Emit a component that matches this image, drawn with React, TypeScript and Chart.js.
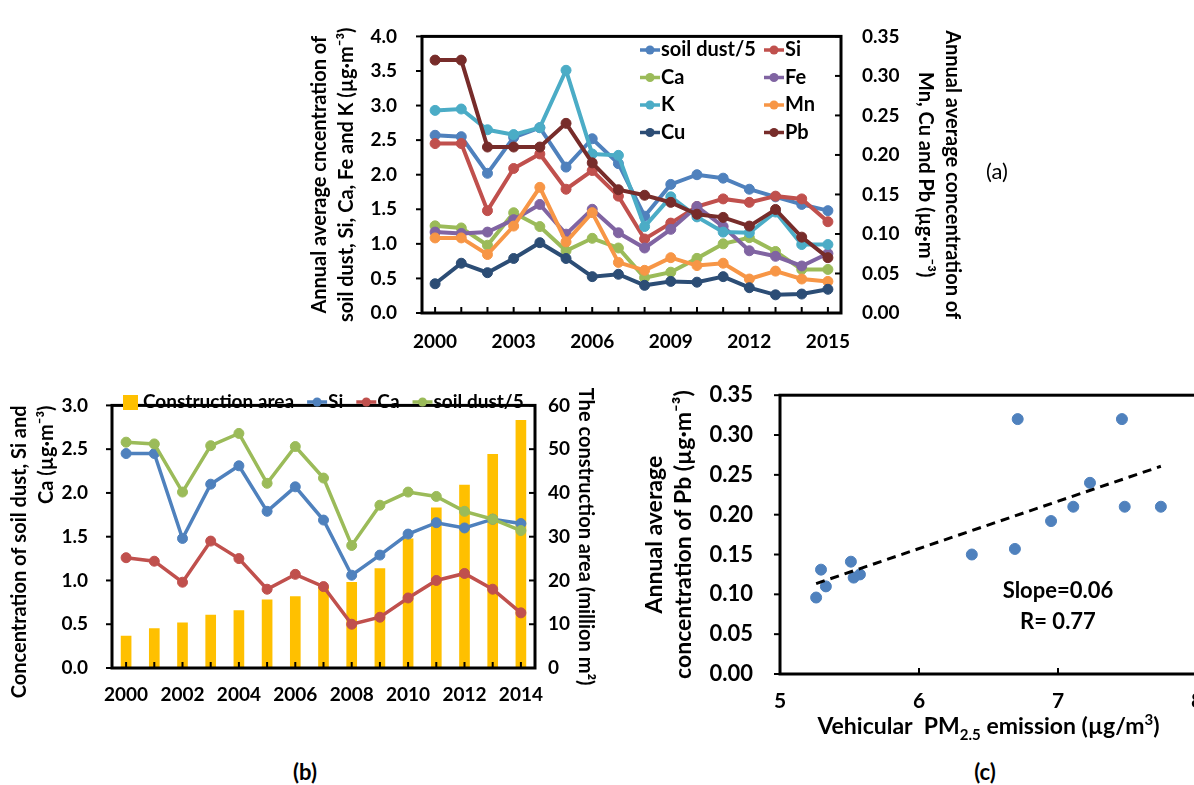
import React, { useEffect, useRef } from "react";
import { Chart, registerables } from "chart.js";

Chart.register(...registerables);

const FONT = "Lato";
const BLACK = "#000000";

// ---------- Panel (a): annual averages 2000–2015 ----------
const yearsA = ["2000", "2001", "2002", "2003", "2004", "2005", "2006", "2007", "2008", "2009", "2010", "2011", "2012", "2013", "2014", "2015"];
const soilDustA = [2.57, 2.55, 2.02, 2.54, 2.68, 2.11, 2.52, 2.16, 1.40, 1.86, 2.00, 1.95, 1.79, 1.68, 1.57, 1.48];
const siA = [2.45, 2.45, 1.48, 2.09, 2.30, 1.79, 2.06, 1.69, 1.07, 1.30, 1.54, 1.65, 1.60, 1.69, 1.65, 1.32];
const caA = [1.26, 1.23, 0.98, 1.45, 1.25, 0.90, 1.08, 0.94, 0.51, 0.59, 0.79, 1.00, 1.09, 0.89, 0.63, 0.63];
const feA = [1.17, 1.15, 1.17, 1.35, 1.57, 1.14, 1.50, 1.16, 0.94, 1.21, 1.54, 1.25, 0.90, 0.82, 0.68, 0.86];
const kA = [2.93, 2.95, 2.65, 2.58, 2.68, 3.51, 2.30, 2.28, 1.25, 1.68, 1.39, 1.17, 1.16, 1.46, 0.99, 0.99];
const mnA = [0.095, 0.095, 0.074, 0.110, 0.159, 0.090, 0.127, 0.064, 0.054, 0.070, 0.060, 0.063, 0.043, 0.053, 0.043, 0.040];
const cuA = [0.037, 0.063, 0.051, 0.069, 0.089, 0.069, 0.046, 0.049, 0.035, 0.040, 0.039, 0.046, 0.032, 0.023, 0.024, 0.030];
const pbA = [0.320, 0.320, 0.210, 0.210, 0.210, 0.240, 0.190, 0.156, 0.149, 0.140, 0.125, 0.121, 0.110, 0.131, 0.096, 0.070];

// ---------- Panel (b): construction area vs. crustal species 2000–2014 ----------
const yearsB = ["2000", "2001", "2002", "2003", "2004", "2005", "2006", "2007", "2008", "2009", "2010", "2011", "2012", "2013", "2014"];
const constructionArea = [7.3, 9.0, 10.3, 12.1, 13.1, 15.6, 16.3, 18.7, 19.6, 22.7, 29.5, 36.6, 41.8, 48.8, 56.6];
const siB = [2.45, 2.45, 1.48, 2.10, 2.31, 1.79, 2.07, 1.69, 1.06, 1.29, 1.53, 1.66, 1.60, 1.70, 1.65];
const caB = [1.26, 1.22, 0.98, 1.45, 1.25, 0.90, 1.07, 0.93, 0.50, 0.58, 0.80, 1.00, 1.08, 0.90, 0.63];
const soilDustB = [2.58, 2.56, 2.01, 2.54, 2.68, 2.11, 2.53, 2.17, 1.40, 1.86, 2.01, 1.96, 1.79, 1.70, 1.57];

// ---------- Panel (c): Pb vs. vehicular PM2.5 emission ----------
const vehicularPM = [5.295, 5.51, 5.575, 6.38, 6.69, 6.71, 6.95, 7.11, 7.23, 7.46, 7.48, 7.74, 5.26, 5.33, 5.53];
const pbC = [0.131, 0.141, 0.125, 0.150, 0.157, 0.320, 0.192, 0.210, 0.240, 0.320, 0.210, 0.210, 0.096, 0.110, 0.121];
const statsText = ["Slope=0.06", "R= 0.77"];

// Colours
const C_SOIL = "#4F81BD";
const C_SI = "#C0504D";
const C_CA = "#9BBB59";
const C_FE = "#8064A2";
const C_K = "#4BACC6";
const C_MN = "#F79646";
const C_CU = "#2C4D75";
const C_PB = "#772C2A";
const C_AREA = "#FFC000";

const font = (size: number, weight: string = "bold", lineHeight: number = 1.2) => ({
  family: FONT,
  size,
  weight,
  lineHeight,
});

// Plot frame plus short tick marks (inside or outside the frame)
const framePlugin = {
  id: "frame",
  afterDraw(chart: any, _args: any, opts: any) {
    const { ctx, chartArea: a } = chart;
    const len = opts.tickLen ?? 6;
    ctx.save();
    ctx.strokeStyle = BLACK;
    ctx.lineWidth = 2;
    const marks = opts.ticks || {};
    Object.keys(marks).forEach((id) => {
      const s = chart.scales[id];
      if (!s) return;
      const dir = marks[id];
      s.ticks.forEach((_t: any, i: number) => {
        const p = s.getPixelForTick(i);
        ctx.beginPath();
        if (s.isHorizontal()) {
          ctx.moveTo(p, a.bottom);
          ctx.lineTo(p, dir === "in" ? a.bottom - len : a.bottom + len);
        } else if (s.position === "left") {
          ctx.moveTo(a.left, p);
          ctx.lineTo(dir === "in" ? a.left + len : a.left - len, p);
        } else {
          ctx.moveTo(a.right, p);
          ctx.lineTo(dir === "in" ? a.right - len : a.right + len, p);
        }
        ctx.stroke();
      });
    });
    ctx.lineWidth = 3;
    ctx.strokeRect(a.left, a.top, a.right - a.left, a.bottom - a.top);
    ctx.restore();
  },
};

// Legend drawn inside the plot: grid of columns or a single flowing row
const legendPlugin = {
  id: "innerLegend",
  afterDraw(chart: any, _args: any, opts: any) {
    if (!opts || !opts.display) return;
    const { ctx } = chart;
    ctx.save();
    ctx.font = `bold ${opts.fontSize}px ${FONT}`;
    ctx.textBaseline = "middle";
    ctx.textAlign = "left";
    let flowX = opts.x;
    chart.data.datasets.forEach((d: any, i: number) => {
      let x: number;
      let y: number;
      if (opts.columns) {
        x = opts.columns[i % opts.columns.length];
        y = opts.y + Math.floor(i / opts.columns.length) * opts.rowHeight;
      } else {
        x = flowX;
        y = opts.y;
      }
      let textX: number;
      if (d.type === "bar") {
        ctx.fillStyle = d.backgroundColor;
        ctx.fillRect(x, y - 7, 15, 15);
        textX = x + 20;
      } else {
        ctx.strokeStyle = d.borderColor;
        ctx.lineWidth = 3.5;
        ctx.beginPath();
        ctx.moveTo(x, y);
        ctx.lineTo(x + 20, y);
        ctx.stroke();
        ctx.fillStyle = d.borderColor;
        ctx.beginPath();
        ctx.arc(x + 10, y, 4.5, 0, Math.PI * 2);
        ctx.fill();
        textX = x + 21;
      }
      ctx.fillStyle = BLACK;
      ctx.fillText(d.label, textX, y);
      flowX = textX + ctx.measureText(d.label).width + opts.gap;
    });
    ctx.restore();
  },
};

// Statistics note and the x-axis title with sub/superscripts for panel (c)
const scatterNotesPlugin = {
  id: "scatterNotes",
  afterDraw(chart: any, _args: any, opts: any) {
    const { ctx, chartArea: a } = chart;
    const xs = chart.scales.x;
    const ys = chart.scales.y;
    ctx.save();
    ctx.fillStyle = BLACK;
    ctx.textBaseline = "middle";
    ctx.textAlign = "center";
    ctx.font = `bold 22px ${FONT}`;
    opts.notes.forEach((n: any) => {
      ctx.fillText(n.text, xs.getPixelForValue(n.x), ys.getPixelForValue(n.y));
    });

    const parts = [
      { t: "Vehicular  PM", size: 23, dy: 0 },
      { t: "2.5", size: 15, dy: 6 },
      { t: " emission (\u00b5g/m", size: 23, dy: 0 },
      { t: "3", size: 15, dy: -9 },
      { t: ")", size: 23, dy: 0 },
    ];
    ctx.textAlign = "left";
    ctx.textBaseline = "alphabetic";
    let total = 0;
    parts.forEach((p) => {
      ctx.font = `bold ${p.size}px ${FONT}`;
      total += ctx.measureText(p.t).width;
    });
    let x = (a.left + a.right) / 2 - total / 2;
    const base = a.bottom + opts.titleOffset;
    parts.forEach((p) => {
      ctx.font = `bold ${p.size}px ${FONT}`;
      ctx.fillText(p.t, x, base + p.dy);
      x += ctx.measureText(p.t).width;
    });
    ctx.restore();
  },
};

const lineSet = (label: string, data: number[], color: string, axis: string, order: number, width = 4) => ({
  type: "line" as const,
  label,
  data,
  yAxisID: axis,
  borderColor: color,
  backgroundColor: color,
  borderWidth: width,
  pointRadius: 5,
  pointBackgroundColor: color,
  pointBorderColor: color,
  pointBorderWidth: 1,
  tension: 0,
  order,
});

function makeChartA(): any {
  return {
    type: "line",
    data: {
      labels: yearsA,
      datasets: [
        lineSet("soil dust/5", soilDustA, C_SOIL, "y", 8),
        lineSet("Si", siA, C_SI, "y", 7),
        lineSet("Ca", caA, C_CA, "y", 6),
        lineSet("Fe", feA, C_FE, "y", 5),
        lineSet("K", kA, C_K, "y", 4),
        lineSet("Mn", mnA, C_MN, "y1", 3),
        lineSet("Cu", cuA, C_CU, "y1", 2),
        lineSet("Pb", pbA, C_PB, "y1", 1),
      ],
    },
    options: {
      responsive: false,
      animation: false,
      layout: { padding: { top: 21, left: 0, right: 0, bottom: 0 } },
      plugins: {
        legend: { display: false },
        tooltip: { enabled: false },
        frame: { ticks: { x: "in", y: "out", y1: "in" }, tickLen: 6 },
        innerLegend: { display: true, columns: [350, 474], y: 50, rowHeight: 27.5, fontSize: 20, gap: 0 },
      },
      scales: {
        x: {
          type: "category",
          offset: true,
          grid: { display: false, drawTicks: false },
          border: { display: false },
          ticks: {
            autoSkip: false,
            maxRotation: 0,
            padding: 17,
            color: BLACK,
            font: font(19),
            callback: (_v: any, i: number) => (i % 3 === 0 ? yearsA[i] : ""),
          },
          afterFit: (s: any) => {
            s.height = 52;
          },
        },
        y: {
          position: "left",
          min: 0,
          max: 4,
          grid: { display: false, drawTicks: false },
          border: { display: false },
          ticks: { stepSize: 0.5, padding: 25, color: BLACK, font: font(19), callback: (v: number) => v.toFixed(1) },
          title: {
            display: true,
            text: ["Annual average cncentration of", "soil dust, Si, Ca, Fe and K (\u00b5g\u00b7m\u207b\u00b3)"],
            color: BLACK,
            font: font(20, "bold", 1.35),
            padding: { top: 16.5, bottom: 0 },
          },
          afterFit: (s: any) => {
            s.width = 132;
          },
        },
        y1: {
          position: "right",
          min: 0,
          max: 0.35,
          grid: { display: false, drawTicks: false },
          border: { display: false },
          ticks: { stepSize: 0.05, padding: 21, color: BLACK, font: font(19), callback: (v: number) => v.toFixed(2) },
          title: {
            display: true,
            text: ["Annual average concentration of", "Mn, Cu and Pb (\u00b5g\u00b7m\u207b\u00b3)"],
            color: BLACK,
            font: font(20, "bold", 1.35),
            padding: { top: 44.5, bottom: 0 },
          },
          afterFit: (s: any) => {
            s.width = 169;
          },
        },
      },
    },
    plugins: [framePlugin, legendPlugin],
  };
}

function makeChartB(): any {
  return {
    type: "bar",
    data: {
      labels: yearsB,
      datasets: [
        {
          type: "bar",
          label: "Construction area",
          data: constructionArea,
          yAxisID: "y1",
          backgroundColor: C_AREA,
          borderWidth: 0,
          barThickness: 10,
          order: 4,
        },
        lineSet("Si", siB, C_SOIL, "y", 3, 3.5),
        lineSet("Ca", caB, C_SI, "y", 2, 3.5),
        lineSet("soil dust/5", soilDustB, C_CA, "y", 1, 3.5),
      ],
    },
    options: {
      responsive: false,
      animation: false,
      layout: { padding: { top: 13, left: 0, right: 0, bottom: 0 } },
      plugins: {
        legend: { display: false },
        tooltip: { enabled: false },
        frame: { ticks: { x: "in", y: "out", y1: "in" }, tickLen: 6 },
        innerLegend: { display: true, x: 123, y: 32, fontSize: 19, gap: 13 },
      },
      scales: {
        x: {
          type: "category",
          offset: true,
          grid: { display: false, drawTicks: false },
          border: { display: false },
          ticks: {
            autoSkip: false,
            maxRotation: 0,
            padding: 15,
            color: BLACK,
            font: font(19),
            callback: (_v: any, i: number) => (i % 2 === 0 ? yearsB[i] : ""),
          },
          afterFit: (s: any) => {
            s.height = 47;
          },
        },
        y: {
          position: "left",
          min: 0,
          max: 3,
          grid: { display: false, drawTicks: false },
          border: { display: false },
          ticks: { stepSize: 0.5, padding: 24, color: BLACK, font: font(19), callback: (v: number) => v.toFixed(1) },
          title: {
            display: true,
            align: "end",
            text: ["Concentration of soil dust, Si and", "Ca (\u00b5g\u00b7m\u207b\u00b3)"],
            color: BLACK,
            font: font(20, "bold", 1.35),
            padding: { top: 6.5, bottom: 0 },
          },
          afterFit: (s: any) => {
            s.width = 112;
          },
        },
        y1: {
          position: "right",
          min: 0,
          max: 60,
          grid: { display: false, drawTicks: false },
          border: { display: false },
          ticks: { stepSize: 10, padding: 13, color: BLACK, font: font(19) },
          title: {
            display: true,
            text: "The construction area (million m\u00b2)",
            color: BLACK,
            font: font(20, "bold", 1.35),
            padding: { top: 21.5, bottom: 0 },
          },
          afterFit: (s: any) => {
            s.width = 85;
          },
        },
      },
    },
    plugins: [framePlugin, legendPlugin],
  };
}

// Least-squares fit of Pb on vehicular PM2.5
function fitLine(xs: number[], ys: number[]) {
  const n = xs.length;
  const mx = xs.reduce((s, v) => s + v, 0) / n;
  const my = ys.reduce((s, v) => s + v, 0) / n;
  let sxy = 0;
  let sxx = 0;
  for (let i = 0; i < n; i++) {
    sxy += (xs[i] - mx) * (ys[i] - my);
    sxx += (xs[i] - mx) * (xs[i] - mx);
  }
  const slope = sxy / sxx;
  return { slope, intercept: my - slope * mx };
}

function makeChartC(): any {
  const { slope, intercept } = fitLine(vehicularPM, pbC);
  const xMin = Math.min(...vehicularPM);
  const xMax = Math.max(...vehicularPM);
  const trend = [xMin, xMax].map((x) => ({ x, y: intercept + slope * x }));
  return {
    type: "scatter",
    data: {
      datasets: [
        {
          type: "line",
          label: "Linear fit",
          data: trend,
          borderColor: BLACK,
          borderWidth: 3,
          borderDash: [9, 6],
          pointRadius: 0,
          fill: false,
          order: 1,
        },
        {
          type: "scatter",
          label: "Pb",
          data: vehicularPM.map((x, i) => ({ x, y: pbC[i] })),
          backgroundColor: C_SOIL,
          borderColor: C_SOIL,
          pointRadius: 5.5,
          order: 2,
        },
      ],
    },
    options: {
      responsive: false,
      animation: false,
      layout: { padding: { top: 33, left: 0, right: 23, bottom: 0 } },
      plugins: {
        legend: { display: false },
        tooltip: { enabled: false },
        frame: { ticks: { x: "in", y: "out" }, tickLen: 6 },
        scatterNotes: {
          notes: [
            { text: statsText[0], x: 7.0, y: 0.104 },
            { text: statsText[1], x: 7.0, y: 0.066 },
          ],
          titleOffset: 60,
        },
      },
      scales: {
        x: {
          type: "linear",
          min: 5,
          max: 8,
          grid: { display: false, drawTicks: false },
          border: { display: false },
          ticks: { stepSize: 1, padding: 15, color: BLACK, font: font(21) },
          afterFit: (s: any) => {
            s.height = 81;
          },
        },
        y: {
          position: "left",
          min: 0,
          max: 0.35,
          grid: { display: false, drawTicks: false },
          border: { display: false },
          ticks: { stepSize: 0.05, padding: 27, color: BLACK, font: font(22), callback: (v: number) => v.toFixed(2) },
          title: {
            display: true,
            text: ["Annual average", "concentration of Pb (\u00b5g\u00b7m\u207b\u00b3)"],
            color: BLACK,
            font: font(23, "bold", 1.22),
            padding: { top: 41, bottom: 0 },
          },
          afterFit: (s: any) => {
            s.width = 180;
          },
        },
      },
    },
    plugins: [framePlugin, scatterNotesPlugin],
  };
}

function ChartBox(props: { left: number; top: number; width: number; height: number; make: () => any }) {
  const { left, top, width, height, make } = props;
  const ref = useRef<HTMLCanvasElement>(null);
  useEffect(() => {
    const chart = new Chart(ref.current as HTMLCanvasElement, make());
    return () => chart.destroy();
  }, []);
  return (
    <div style={{ position: "absolute", left, top, width, height }}>
      <canvas ref={ref} width={width} height={height} style={{ width, height, display: "block" }} />
    </div>
  );
}

const panelLabel = (text: string, cx: number, cy: number, weight: string): React.ReactElement => (
  <div
    style={{
      position: "absolute",
      left: cx - 30,
      top: cy - 14,
      width: 60,
      height: 28,
      lineHeight: "28px",
      textAlign: "center",
      fontFamily: FONT,
      fontWeight: weight as any,
      fontSize: 22,
      color: BLACK,
    }}
  >
    {text}
  </div>
);

export default function App() {
  return (
    <div
      style={{
        position: "absolute",
        left: 0,
        top: 0,
        width: 1194,
        height: 785,
        overflow: "hidden",
        background: "#ffffff",
      }}
    >
      <ChartBox left={290} top={0} width={720} height={365} make={makeChartA} />
      <ChartBox left={0} top={370} width={620} height={345} make={makeChartB} />
      <ChartBox left={600} top={355} width={620} height={400} make={makeChartC} />
      {panelLabel("(a)", 997, 171, "normal")}
      {panelLabel("(b)", 305, 772, "bold")}
      {panelLabel("(c)", 985, 772, "bold")}
    </div>
  );
}
